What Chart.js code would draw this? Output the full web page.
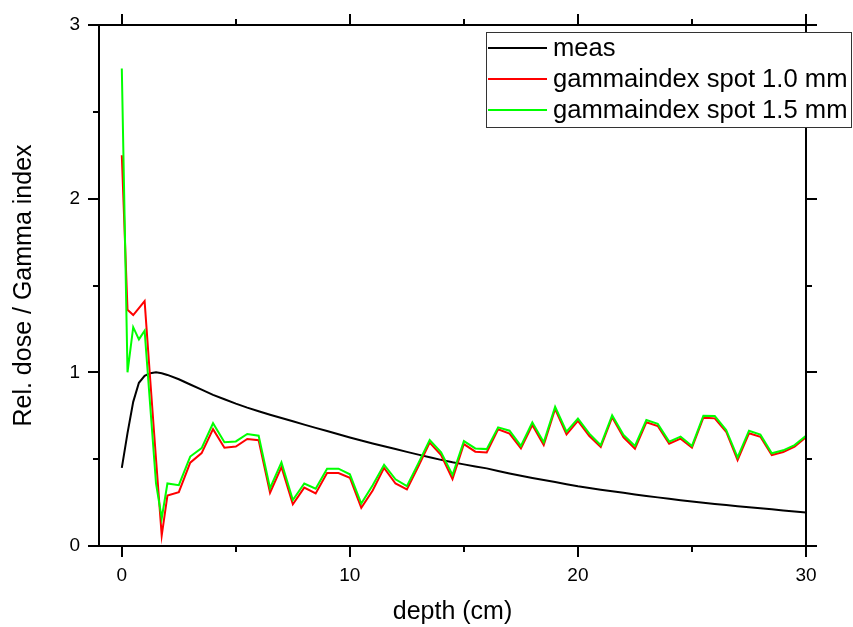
<!DOCTYPE html>
<html>
<head>
<meta charset="utf-8">
<script src="https://cdn.jsdelivr.net/npm/chart.js@4/dist/chart.umd.min.js"></script>
<style>
  html, body { margin: 0; padding: 0; background: #fff; }
</style>
</head>
<body>
<canvas id="chart" width="853" height="627"></canvas>
<script>
var depth = [0, 0.25, 0.5, 0.75, 1, 1.25, 1.5, 1.75, 2, 2.5, 3, 3.5, 4, 4.5, 5, 5.5, 6, 6.5, 7, 7.5,
  8, 8.5, 9, 9.5, 10, 10.5, 11, 11.5, 12, 12.5, 13, 13.5, 14, 14.5, 15, 15.5, 16, 16.5, 17, 17.5,
  18, 18.5, 19, 19.5, 20, 20.5, 21, 21.5, 22, 22.5, 23, 23.5, 24, 24.5, 25, 25.5, 26, 26.5, 27, 27.5,
  28, 28.5, 29, 29.5, 30];

var meas = [0.45, 0.65, 0.83, 0.94, 0.98, 0.995, 1.0, 0.995, 0.985, 0.96, 0.93, 0.9, 0.87, 0.845, 0.82, 0.797, 0.776, 0.756, 0.737, 0.718,
  0.699, 0.68, 0.662, 0.643, 0.625, 0.607, 0.59, 0.574, 0.558, 0.542, 0.526, 0.511, 0.496, 0.482, 0.47, 0.458, 0.447, 0.432, 0.418, 0.405,
  0.392, 0.38, 0.368, 0.356, 0.344, 0.334, 0.324, 0.315, 0.306, 0.297, 0.288, 0.28, 0.272, 0.264, 0.256, 0.249, 0.242, 0.236, 0.229, 0.223,
  0.217, 0.211, 0.205, 0.199, 0.193];

var gammaSpot10 = [2.25, 1.36, 1.33, 1.37, 1.41, 0.95, 0.50, 0.06, 0.29, 0.31, 0.48, 0.535, 0.673, 0.566, 0.573, 0.616, 0.609, 0.307, 0.455, 0.24,
  0.336, 0.303, 0.42, 0.42, 0.393, 0.22, 0.32, 0.45, 0.36, 0.326, 0.457, 0.595, 0.524, 0.386, 0.587, 0.543, 0.539, 0.672, 0.647, 0.562,
  0.697, 0.581, 0.789, 0.643, 0.72, 0.633, 0.57, 0.741, 0.626, 0.56, 0.712, 0.691, 0.589, 0.618, 0.566, 0.739, 0.735, 0.658, 0.495, 0.649,
  0.629, 0.524, 0.541, 0.572, 0.626];

var gammaSpot15 = [2.75, 1.0, 1.26, 1.19, 1.24, 0.8, 0.36, 0.16, 0.36, 0.35, 0.515, 0.564, 0.707, 0.597, 0.602, 0.645, 0.635, 0.333, 0.482, 0.265,
  0.36, 0.33, 0.445, 0.445, 0.413, 0.244, 0.35, 0.468, 0.384, 0.345, 0.476, 0.61, 0.539, 0.409, 0.604, 0.562, 0.558, 0.683, 0.664, 0.576,
  0.712, 0.597, 0.802, 0.658, 0.733, 0.647, 0.581, 0.752, 0.639, 0.576, 0.725, 0.703, 0.601, 0.63, 0.576, 0.75, 0.748, 0.668, 0.51, 0.664,
  0.641, 0.534, 0.551, 0.581, 0.635];

var seriesNames = ['meas', 'gammaindex spot 1.0 mm', 'gammaindex spot 1.5 mm'];
var seriesColors = ['#000000', '#ff0000', '#00ff00'];

var xTicks = [0, 5, 10, 15, 20, 25, 30];
var xLabels = [0, 10, 20, 30];
var yTicks = [0, 0.5, 1, 1.5, 2, 2.5, 3];
var yLabels = [0, 1, 2, 3];

var FONT = "'Liberation Sans', Arial, sans-serif";

function toPoints(ys) {
  return depth.map(function(d, i) { return { x: d, y: ys[i] }; });
}

// frame + outward ticks on all four sides
var framePlugin = {
  id: 'frame',
  afterDraw: function(chart) {
    var ctx = chart.ctx, a = chart.chartArea;
    var xs = chart.scales.x, ys = chart.scales.y;
    ctx.save();
    ctx.strokeStyle = '#000';
    ctx.lineWidth = 2;
    ctx.strokeRect(a.left, a.top, a.right - a.left, a.bottom - a.top);
    ctx.beginPath();
    xTicks.forEach(function(v) {
      var px = Math.round(xs.getPixelForValue(v));
      var len = xLabels.indexOf(v) >= 0 ? 11 : 6;
      ctx.moveTo(px, a.bottom); ctx.lineTo(px, a.bottom + len);
      ctx.moveTo(px, a.top); ctx.lineTo(px, a.top - len);
    });
    yTicks.forEach(function(v) {
      var py = Math.round(ys.getPixelForValue(v));
      var len = yLabels.indexOf(v) >= 0 ? 11 : 6;
      ctx.moveTo(a.left, py); ctx.lineTo(a.left - len, py);
      ctx.moveTo(a.right, py); ctx.lineTo(a.right + len, py);
    });
    ctx.stroke();
    ctx.restore();
  }
};

// boxed legend inside the top right corner
var legendPlugin = {
  id: 'boxLegend',
  afterDraw: function(chart) {
    var ctx = chart.ctx;
    var box = { left: 486, top: 32, right: 851, bottom: 127 };
    var rows = [48, 79, 110];
    ctx.save();
    ctx.fillStyle = '#fff';
    ctx.fillRect(box.left, box.top, box.right - box.left, box.bottom - box.top);
    ctx.strokeStyle = '#333';
    ctx.lineWidth = 1;
    ctx.strokeRect(box.left + 0.5, box.top + 0.5, box.right - box.left, box.bottom - box.top);
    ctx.font = '25.6px ' + FONT;
    ctx.textBaseline = 'middle';
    ctx.fillStyle = '#000';
    seriesNames.forEach(function(name, i) {
      ctx.strokeStyle = seriesColors[i];
      ctx.lineWidth = 2;
      ctx.beginPath();
      ctx.moveTo(488, rows[i]); ctx.lineTo(547, rows[i]);
      ctx.stroke();
      ctx.fillText(name, 553, rows[i] + 1);
    });
    ctx.restore();
  }
};

var ctx = document.getElementById('chart').getContext('2d');
var myChart = new Chart(ctx, {
  type: 'line',
  data: {
    datasets: [{
      label: seriesNames[0],
      data: toPoints(meas),
      borderColor: seriesColors[0],
      borderWidth: 2,
      pointRadius: 0,
      tension: 0,
      order: 2
    }, {
      label: seriesNames[1],
      data: toPoints(gammaSpot10),
      borderColor: seriesColors[1],
      borderWidth: 2,
      pointRadius: 0,
      tension: 0,
      order: 1
    }, {
      label: seriesNames[2],
      data: toPoints(gammaSpot15),
      borderColor: seriesColors[2],
      borderWidth: 2,
      pointRadius: 0,
      tension: 0,
      order: 0
    }]
  },
  options: {
    responsive: false,
    animation: false,
    devicePixelRatio: 1,
    layout: { padding: { top: 25, right: 47, left: 0, bottom: 0 } },
    plugins: {
      legend: { display: false },
      tooltip: { enabled: false }
    },
    scales: {
      x: {
        type: 'linear',
        min: -1,
        max: 30,
        afterBuildTicks: function(scale) {
          scale.ticks = xTicks.map(function(v) { return { value: v }; });
        },
        afterFit: function(scale) { scale.height = 81; },
        ticks: {
          autoSkip: false,
          maxRotation: 0,
          padding: 18,
          color: '#000',
          font: { family: FONT, size: 19 },
          callback: function(v) { return xLabels.indexOf(v) >= 0 ? String(v) : ''; }
        },
        grid: { display: false, drawTicks: false, tickLength: 0 },
        border: { display: false },
        title: {
          display: true,
          text: 'depth (cm)',
          color: '#000',
          font: { family: FONT, size: 25 },
          padding: { top: 0, bottom: 0 }
        }
      },
      y: {
        min: 0,
        max: 3,
        afterBuildTicks: function(scale) {
          scale.ticks = yTicks.map(function(v) { return { value: v }; });
        },
        afterFit: function(scale) { scale.width = 99; },
        ticks: {
          autoSkip: false,
          padding: 4,
          color: '#000',
          font: { family: FONT, size: 19 },
          callback: function(v) { return yLabels.indexOf(v) >= 0 ? String(v) : ''; }
        },
        grid: { display: false, drawTicks: true, tickLength: 15 },
        border: { display: false },
        title: {
          display: true,
          text: 'Rel. dose / Gamma index',
          color: '#000',
          font: { family: FONT, size: 25 },
          padding: { top: 9, bottom: 0 }
        }
      }
    }
  },
  plugins: [framePlugin, legendPlugin]
});
</script>
</body>
</html>
